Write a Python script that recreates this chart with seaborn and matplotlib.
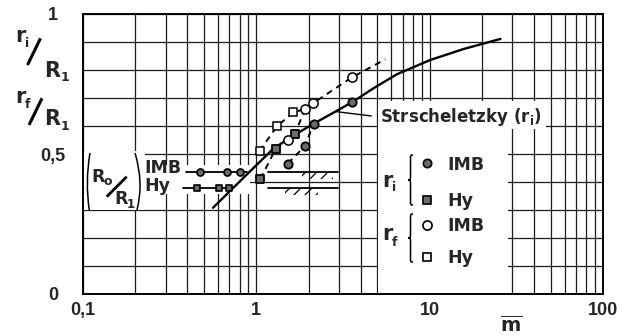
import numpy as np
import matplotlib
matplotlib.use("Agg")
import matplotlib.pyplot as plt
import seaborn as sns
from matplotlib.ticker import FixedLocator, LogLocator, NullFormatter
from matplotlib.patches import Rectangle, PathPatch
from matplotlib.path import Path
from matplotlib.lines import Line2D
from matplotlib.transforms import Affine2D

# ---- measured radii ratios versus mean m ----
ri_imb_m = [1.52, 1.91, 2.14, 3.57]
ri_imb_y = [0.466, 0.529, 0.608, 0.686]
ri_hy_m = [1.055, 1.29, 1.67]
ri_hy_y = [0.411, 0.517, 0.571]
rf_imb_m = [1.53, 1.905, 2.13, 3.57]
rf_imb_y = [0.551, 0.660, 0.682, 0.774]
rf_hy_m = [1.045, 1.316, 1.635]
rf_hy_y = [0.511, 0.599, 0.649]

# ---- hub ratio R0/R1 of the two test rigs ----
r0_imb = 0.437
r0_hy = 0.378
r0_imb_m = [0.475, 0.68, 0.81]
r0_hy_m = [0.457, 0.61, 0.70]
r0_imb_left = [0.394, 0.887]
r0_hy_left = [0.379, 0.727]
r0_right = [1.17, 2.97]
imb_hatch_m = [1.84, 2.78]
hy_hatch_m = [1.47, 2.28]
hatch_depth = 0.026

# ---- Strscheletzky curve for r_i ----
strs_m = [0.5625, 0.923, 1.258, 1.679, 2.14, 3.57, 4.75, 6.48, 10.1, 15.7, 25.6]
strs_y = [0.308, 0.439, 0.520, 0.570, 0.608, 0.685, 0.735, 0.785, 0.836, 0.875, 0.911]

# ---- dashed trend lines through the measurements ----
rf_trend_m = [1.045, 1.316, 1.635, 1.905, 2.13, 3.57, 5.55]
rf_trend_y = [0.511, 0.599, 0.649, 0.660, 0.682, 0.774, 0.838]
mid_trend_m = [1.055, 1.29, 1.53, 1.67, 1.905]
mid_trend_y = [0.411, 0.517, 0.551, 0.571, 0.660]
ri_trend_m = [1.52, 1.91, 2.14]
ri_trend_y = [0.466, 0.529, 0.608]

x_ticks = [0.1, 1, 10, 100]
x_tick_labels = ["0,1", "1", "10", "100"]
y_ticks = [round(v, 1) for v in np.arange(0, 1.01, 0.1)]
y_tick_labels = ["0", "", "", "", "", "0,5", "", "", "", "", "1"]

sns.set_style("white")
plt.rcParams["font.family"] = ["DejaVu Sans"]
plt.rcParams["font.weight"] = "bold"
plt.rcParams["mathtext.fontset"] = "custom"
plt.rcParams["mathtext.rm"] = "DejaVu Sans:bold"
plt.rcParams["mathtext.it"] = "DejaVu Sans:bold"
plt.rcParams["mathtext.bf"] = "DejaVu Sans:bold"
plt.rcParams["hatch.linewidth"] = 0.9

W, H = 631, 336
fig = plt.figure(figsize=(W / 100, H / 100), dpi=100)
ax = fig.add_axes([83 / W, 42 / H, 520 / W, 280 / H])
# pixel coordinates measured from the top-left corner of the figure
PX = Affine2D().scale(1 / W, -1 / H).translate(0, 1) + fig.transFigure

ax.set_xscale("log")
ax.set_xlim(0.1, 100)
ax.set_ylim(0, 1)
ax.xaxis.set_major_locator(FixedLocator(x_ticks))
ax.xaxis.set_minor_locator(LogLocator(base=10, subs=np.arange(2, 10)))
ax.xaxis.set_minor_formatter(NullFormatter())
ax.set_xticklabels(x_tick_labels, fontfamily="Liberation Sans", fontsize=13, fontweight="bold")
ax.set_yticks(y_ticks)
ax.set_yticklabels(y_tick_labels, fontfamily="Liberation Sans", fontsize=13, fontweight="bold",
                   ha="center")
ax.tick_params(which="both", length=0)
ax.tick_params(axis="x", pad=5.5)
ax.tick_params(axis="y", pad=21.5)
ax.set_axisbelow(True)
ax.grid(which="both", color="#1c1c1c", lw=0.9)
for sp in ax.spines.values():
    sp.set_color("black")
    sp.set_linewidth(1.4)

ax.set_xlabel(r"$\overline{\mathrm{m}}$", fontsize=14)
ax.xaxis.set_label_coords(0.823, -0.075)

# white panels behind the annotations
for (x0, y0, w, h) in [(0.0, 0.30, 0.12, 0.21),      # R0/R1 label
                       (0.0, 0.357, 0.321, 0.103),   # hub ratio lines
                       (0.567, 0.0, 0.25, 0.595),    # legend
                       (0.567, 0.59, 0.323, 0.10)]:  # curve label
    ax.add_patch(Rectangle((x0, y0), w, h, transform=ax.transAxes,
                           facecolor="white", edgecolor="none", zorder=1))

# hub ratio lines with hatched wall symbols
for span, lvl in [(r0_imb_left, r0_imb), (r0_hy_left, r0_hy),
                  (r0_right, r0_imb), (r0_right, r0_hy)]:
    sns.lineplot(x=span, y=[lvl, lvl], ax=ax, color="black", lw=1.3,
                 sort=False, estimator=None, zorder=3)
for span, lvl in [(imb_hatch_m, r0_imb), (hy_hatch_m, r0_hy)]:
    ax.fill_between(span, lvl - hatch_depth, lvl, facecolor="none", edgecolor="black",
                    hatch="///", lw=0, zorder=2)

# Strscheletzky curve and dashed trends
sns.lineplot(x=strs_m, y=strs_y, ax=ax, color="black", lw=1.7, sort=False,
             estimator=None, zorder=3)
for mm, yy in [(rf_trend_m, rf_trend_y), (mid_trend_m, mid_trend_y), (ri_trend_m, ri_trend_y)]:
    sns.lineplot(x=mm, y=yy, ax=ax, color="black", lw=1.4, ls=(0, (3.2, 2.6)),
                 sort=False, estimator=None, zorder=3)

shade = "#6a6a6a"
sns.scatterplot(x=r0_imb_m, y=[r0_imb] * len(r0_imb_m), ax=ax, marker="o", s=26,
                color=shade, edgecolor="black", linewidth=1.2, zorder=4)
sns.scatterplot(x=r0_hy_m, y=[r0_hy] * len(r0_hy_m), ax=ax, marker="s", s=24,
                color=shade, edgecolor="black", linewidth=1.2, zorder=4)
sns.scatterplot(x=ri_imb_m, y=ri_imb_y, ax=ax, marker="o", s=36, color=shade,
                edgecolor="black", linewidth=1.3, zorder=4)
sns.scatterplot(x=ri_hy_m, y=ri_hy_y, ax=ax, marker="s", s=32, color=shade,
                edgecolor="black", linewidth=1.3, zorder=4)
sns.scatterplot(x=rf_imb_m, y=rf_imb_y, ax=ax, marker="o", s=44, color="white",
                edgecolor="black", linewidth=1.1, zorder=4)
sns.scatterplot(x=rf_hy_m, y=rf_hy_y, ax=ax, marker="s", s=40, color="white",
                edgecolor="black", linewidth=1.1, zorder=4)


def ftext(x, y, s, size, **kw):
    fig.text(x, y, s, transform=PX, fontsize=size, fontweight="bold", **kw)


def fline(xs, ys, lw=1.2):
    fig.add_artist(Line2D(xs, ys, color="black", lw=lw, transform=PX,
                          solid_capstyle="butt"))


def brace(x, y0, y1, w=5.0, lw=1.1):
    ym = 0.5 * (y0 + y1)
    xm = x + w / 2
    verts = [(x + w, y0), (xm, y0), (xm, y0), (xm, y0 + w),
             (xm, ym - w),
             (xm, ym), (xm, ym), (x, ym),
             (xm, ym), (xm, ym), (xm, ym + w),
             (xm, y1 - w),
             (xm, y1), (xm, y1), (x + w, y1)]
    codes = ([Path.MOVETO] + [Path.CURVE4] * 3 + [Path.LINETO] + [Path.CURVE4] * 6
             + [Path.LINETO] + [Path.CURVE4] * 3)
    fig.add_artist(PathPatch(Path(verts, codes), transform=PX, facecolor="none",
                             edgecolor="black", lw=lw))


def paren(top, ctrl, bottom, lw=1.1):
    p = Path([top, ctrl, bottom], [Path.MOVETO, Path.CURVE3, Path.CURVE3])
    fig.add_artist(PathPatch(p, transform=PX, facecolor="none", edgecolor="black", lw=lw))


# vertical axis title: r_i / R_1 and r_f / R_1
ftext(15, 42, "r", 15, va="baseline")
ftext(25, 47, "i", 9, va="baseline")
fline([27.5, 40.5], [65, 38.3], lw=2.2)
ftext(44, 77, "R", 15, va="baseline")
ftext(61, 81, "1", 9, va="baseline")
ftext(15, 103, "r", 15, va="baseline")
ftext(25, 108, "f", 9, va="baseline")
fline([29, 42], [125, 98.3], lw=2.2)
ftext(44, 125, "R", 15, va="baseline")
ftext(61, 130, "1", 9, va="baseline")

# hub ratio label (R0/R1) with rig names
paren((90, 153), (85, 182), (89.3, 210))
paren((135, 153), (144, 182), (137, 210))
ftext(91, 181.5, "R", 12.5, va="baseline")
ftext(103, 185, "o", 9, va="baseline")
fline([106.7, 126.7], [196.7, 176.7], lw=2.0)
ftext(114, 203.5, "R", 12.5, va="baseline")
ftext(127, 208, "1", 8.5, va="baseline")
ftext(144, 191, "IMB\nHy", 12.5, va="baseline", linespacing=1.02)

# curve label with leader
fline([336.7, 371.7], [111.7, 116], lw=1.0)
ftext(380, 122, r"Strscheletzky (r$_\mathrm{i}$)", 12, va="baseline")

# legend with braces
ftext(382, 186.7, "r", 15, va="baseline")
ftext(392, 191, "i", 9, va="baseline")
ftext(382, 240, "r", 15, va="baseline")
ftext(392, 246, "f", 9, va="baseline")
brace(408, 155, 205)
brace(408, 214, 262)
for yy, mk, fc, ms in [(163.3, "o", shade, 6.0), (200, "s", shade, 5.6),
                       (225, "o", "white", 6.6), (256.7, "s", "white", 6.2)]:
    fig.add_artist(Line2D([426.7], [yy], marker=mk, ms=ms, mfc=fc, mec="black",
                          mew=1.2, ls="none", transform=PX))
ftext(447, 169.5, "IMB", 12.5, va="baseline")
ftext(447, 206, "Hy", 12.5, va="baseline")
ftext(447, 231, "IMB", 12.5, va="baseline")
ftext(447, 263, "Hy", 12.5, va="baseline")

fig.savefig("out.png", dpi=100, facecolor="white")
